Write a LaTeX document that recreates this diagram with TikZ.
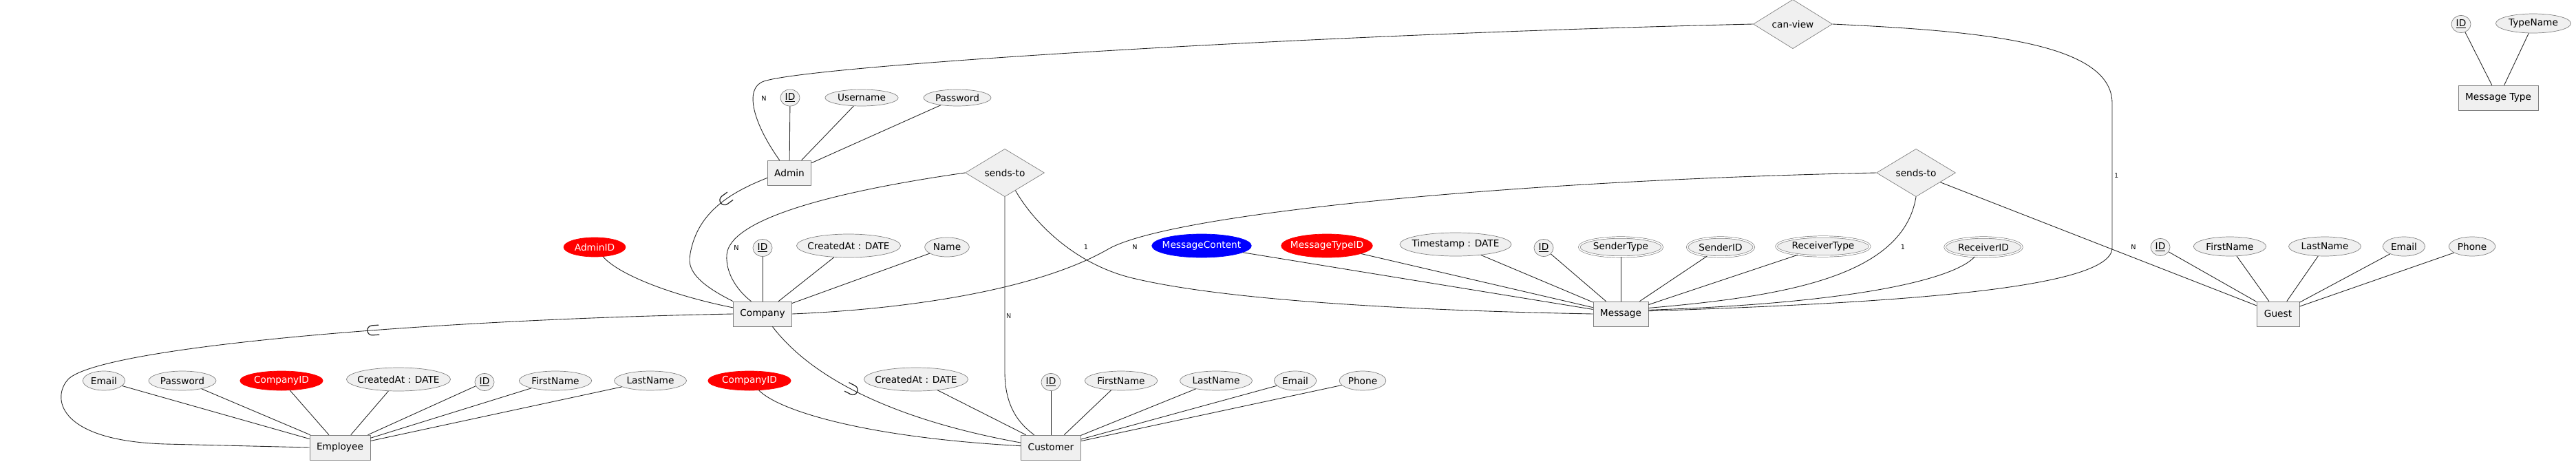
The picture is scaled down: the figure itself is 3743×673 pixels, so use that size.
\documentclass[tikz,border=0pt]{standalone}
\usepackage{fontspec}
\setmainfont{DejaVu Sans}
\usetikzlibrary{shapes.geometric,decorations.markings}

\begin{document}
\begin{tikzpicture}[x=0.02cm, y=0.02cm, font=\fontsize{7.8}{9}\selectfont,
  entity/.style={rectangle, draw=gray, fill=black!6, minimum width=1.24cm, minimum height=0.72cm, inner xsep=0.2cm},
  relation/.style={diamond, draw=gray, fill=black!6, inner sep=0pt, minimum width=2.3cm, minimum height=1.16cm},
  attr/.style={ellipse, draw=gray, fill=black!6, inner xsep=1.5pt, inner ysep=1pt, minimum height=0.56cm},
  wideattr/.style={attr, inner xsep=-3.5pt, minimum height=0.68cm},
  fkey/.style={fill=red, draw=red, text=white},
  content/.style={fill=blue, draw=blue, text=white},
  multi/.style={double, double distance=1pt},
  card/.style={font=\fontsize{5.5}{6}\selectfont, inner sep=0pt},
  link/.style={black!85, line width=0.5pt},
  isa/.style={postaction={decorate, decoration={markings, mark=at position #1 with {\draw[line width=0.7pt] (-0.2cm,0.14cm) -- (0,0.14cm) arc[start angle=90, end angle=-90, radius=0.14cm] -- (-0.2cm,-0.14cm);}}}}
]
\useasboundingbox (0,0) rectangle (3743,-673);

% entities
\node[entity] (admin) at (1147,-251) {Admin};
\node[entity] (company) at (1108,-456) {Company};
\node[entity] (employee) at (494,-650) {Employee};
\node[entity] (customer) at (1527,-650) {Customer};
\node[entity] (message) at (2355,-456) {Message};
\node[entity] (guest) at (3310,-456) {Guest};
\node[entity] (msgtype) at (3630,-142) {Message Type};

% relations
\node[relation] (canview) at (2605,-35) {can-view};
\node[relation] (sendsA) at (1460,-251) {sends-to};
\node[relation] (sendsB) at (2784,-251) {sends-to};

% attributes
\node[attr, minimum height=0.48cm] (adminId) at (1148,-142) {\underline{ID}};
\node[attr, minimum height=0.48cm] (adminUser) at (1252,-142) {Username};
\node[attr, minimum height=0.48cm] (adminPw) at (1391,-142) {Password};

\node[attr, fkey] (compAdminId) at (864,-359) {AdminID};
\node[attr, minimum height=0.5cm] (compId) at (1108,-360) {\underline{ID}};
\node[wideattr] (compCreated) at (1233,-357) {CreatedAt : DATE};
\node[attr] (compName) at (1376,-359) {Name};

\node[attr] (empEmail) at (151,-553) {Email};
\node[attr] (empPw) at (265,-553) {Password};
\node[attr, fkey] (empCompId) at (409,-553) {CompanyID};
\node[wideattr] (empCreated) at (579,-551) {CreatedAt : DATE};
\node[attr, minimum height=0.5cm] (empId) at (704,-555) {\underline{ID}};
\node[attr] (empFirst) at (807,-553) {FirstName};
\node[attr] (empLast) at (945,-553) {LastName};

\node[attr, fkey] (custCompId) at (1089,-553) {CompanyID};
\node[wideattr] (custCreated) at (1331,-551) {CreatedAt : DATE};
\node[attr, minimum height=0.5cm] (custId) at (1527,-555) {\underline{ID}};
\node[attr] (custFirst) at (1629,-553) {FirstName};
\node[attr] (custLast) at (1767,-553) {LastName};
\node[attr] (custEmail) at (1882,-553) {Email};
\node[attr] (custPhone) at (1980,-553) {Phone};

\node[wideattr, content] (msgContent) at (1746,-357) {MessageContent};
\node[wideattr, fkey] (msgTypeId) at (1928,-357) {MessageTypeID};
\node[wideattr] (msgTime) at (2115,-355) {Timestamp : DATE};
\node[attr, minimum height=0.5cm] (msgId) at (2243,-360) {\underline{ID}};
\node[attr, multi] (msgSenderType) at (2355,-359) {SenderType};
\node[attr, multi] (msgSenderId) at (2500,-359) {SenderID};
\node[attr, multi] (msgRecvType) at (2649,-358) {ReceiverType};
\node[attr, multi] (msgRecvId) at (2882,-359) {ReceiverID};

\node[attr, minimum height=0.5cm] (guestId) at (3139,-359) {\underline{ID}};
\node[attr] (guestFirst) at (3240,-358) {FirstName};
\node[attr] (guestLast) at (3378,-358) {LastName};
\node[attr] (guestEmail) at (3493,-358) {Email};
\node[attr] (guestPhone) at (3592,-358) {Phone};

\node[attr, minimum height=0.5cm] (mtId) at (3576,-35) {\underline{ID}};
\node[attr] (mtName) at (3681,-34) {TypeName};

% cardinalities
\node[card] (nView) at (1110,-143) {N};
\node[card] (nSendsComp) at (1070,-360) {N};
\node[card] (oneSendsMsg) at (1578,-359) {1};
\node[card] (nRecvComp) at (1649,-359) {N};
\node[card] (oneRecvMsg) at (2765,-359) {1};
\node[card] (nRecvGuest) at (3100,-359) {N};

% relationship links
\draw[link] (canview.west) .. controls (1900,-50) and (1180,-95) .. (1110,-118) .. controls (1080,-128) and (1095,-180) .. (admin.128);
\draw[link] (canview.east) .. controls (2870,-45) and (3069,-60) .. (3069,-150) -- node[card, anchor=west, xshift=1.5pt] (oneView) {1} (3069,-360) .. controls (3069,-420) and (2750,-440) .. (message.6);
\draw[link] (sendsA.west) .. controls (1200,-280) and (1060,-320) .. (1056,-370) .. controls (1054,-400) and (1075,-425) .. (company.132);
\draw[link] (sendsA.south) -- node[card, anchor=west, pos=0.68, xshift=1pt] (nSendsCust) {N} (1460,-540) .. controls (1460,-590) and (1480,-615) .. (customer.143);
\draw[link] (sendsA.-59) .. controls (1500,-320) and (1560,-385) .. (1650,-405) .. controls (1800,-440) and (2100,-452) .. (message.west);
\draw[link] (sendsB.west) .. controls (2200,-262) and (1700,-310) .. (1610,-362) .. controls (1500,-425) and (1300,-450) .. (company.east);
\draw[link] (sendsB.south) .. controls (2765,-400) and (2600,-430) .. (message.12);
\draw[link] (sendsB) -- (guest);

% isa links
\draw[link, isa=1.4cm] (admin.193) .. controls (1060,-280) and (1010,-310) .. (1002,-375) .. controls (1000,-400) and (1030,-420) .. (company.north west);
\draw[link, isa=10.5cm] (company.west) .. controls (600,-465) and (150,-505) .. (100,-550) .. controls (75,-575) and (80,-640) .. (240,-645) -- (employee.west);
\draw[link, isa=3cm] (company.-52) .. controls (1180,-550) and (1300,-610) .. (customer.171);

% attribute links
\draw[link] (adminId) -- (admin);
\draw[link] (adminUser) -- (admin);
\draw[link] (adminPw) -- (admin);
\draw[link] (compAdminId) .. controls (900,-400) and (980,-430) .. (company.168);
\draw[link] (compId) -- (company);
\draw[link] (compCreated) -- (company);
\draw[link] (compName) -- (company);
\draw[link] (empEmail) -- (employee);
\draw[link] (empPw) -- (employee);
\draw[link] (empCompId) -- (employee);
\draw[link] (empCreated) -- (employee);
\draw[link] (empId) -- (employee);
\draw[link] (empFirst) -- (employee);
\draw[link] (empLast) -- (employee);
\draw[link] (custCompId) .. controls (1130,-595) and (1250,-635) .. (customer.177);
\draw[link] (custCreated) -- (customer);
\draw[link] (custId) -- (customer);
\draw[link] (custFirst) -- (customer);
\draw[link] (custLast) -- (customer);
\draw[link] (custEmail) -- (customer);
\draw[link] (custPhone) -- (customer);
\draw[link] (msgContent) -- (message);
\draw[link] (msgTypeId) -- (message);
\draw[link] (msgTime) -- (message);
\draw[link] (msgId) -- (message);
\draw[link] (msgSenderType) -- (message);
\draw[link] (msgSenderId) -- (message);
\draw[link] (msgRecvType) -- (message);
\draw[link] (msgRecvId) .. controls (2840,-405) and (2700,-440) .. (message.8);
\draw[link] (guestId) -- (guest);
\draw[link] (guestFirst) -- (guest);
\draw[link] (guestLast) -- (guest);
\draw[link] (guestEmail) -- (guest);
\draw[link] (guestPhone) -- (guest);
\draw[link] (mtId) -- (msgtype);
\draw[link] (mtName) -- (msgtype);
\end{tikzpicture}
\end{document}
